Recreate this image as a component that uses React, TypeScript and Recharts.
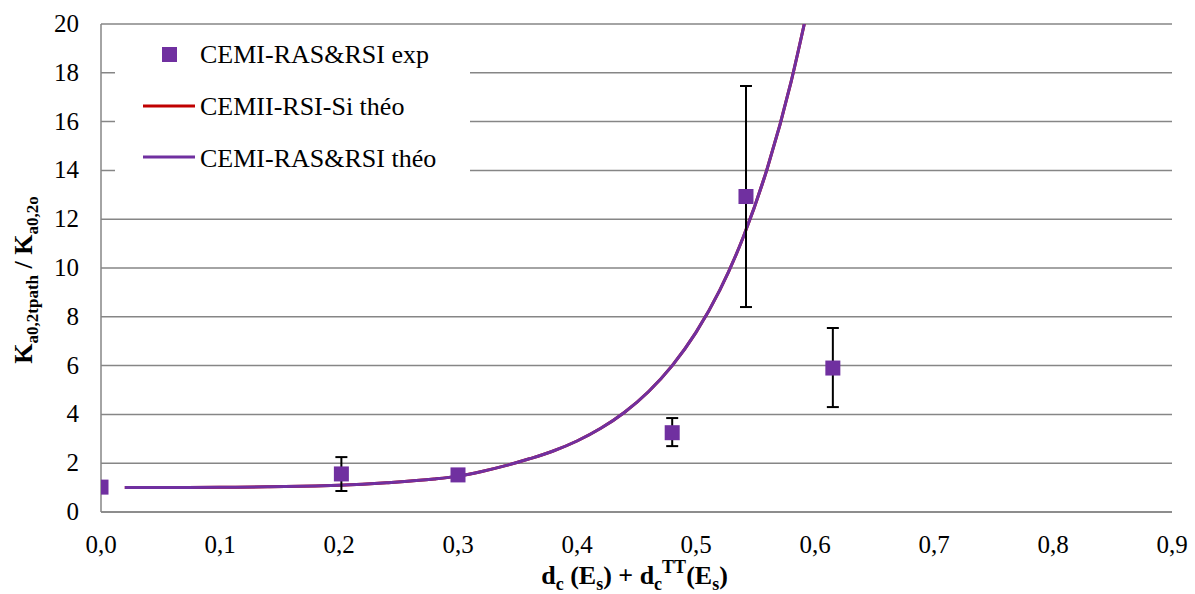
import React from "react";
import { ComposedChart, Line, Scatter, ErrorBar, XAxis, YAxis, CartesianGrid, Legend } from "recharts";

const PURPLE = "#7030A0";
const RED = "#C00000";
const GRID = "#868686";
const FONT = "Liberation Serif, Tinos, DejaVu Serif, Times New Roman, serif";

// axis ticks
const X_TICKS = [0, 0.1, 0.2, 0.3, 0.4, 0.5, 0.6, 0.7, 0.8, 0.9];
const Y_TICKS = [0, 2, 4, 6, 8, 10, 12, 14, 16, 18, 20];

// experimental points (CEMI-RAS&RSI exp), error = [minus, plus]
const expX = [0, 0.202, 0.3, 0.48, 0.542, 0.615];
const expY = [1.02, 1.56, 1.52, 3.25, 12.93, 5.9];
const expErr: (number[] | null)[] = [null, [0.7, 0.69], null, [0.55, 0.6], [4.53, 4.53], [1.6, 1.64]];

// theoretical curves
const theoX = [0.02, 0.06, 0.1, 0.14, 0.18, 0.2, 0.24, 0.28, 0.3, 0.32, 0.34, 0.36, 0.38, 0.4, 0.42, 0.44, 0.46, 0.48, 0.5, 0.52, 0.54, 0.56, 0.58, 0.591];
const cemiiY = [1.0, 1.0, 1.01, 1.03, 1.07, 1.1, 1.2, 1.35, 1.47, 1.66, 1.9, 2.18, 2.5, 2.91, 3.43, 4.09, 4.93, 6.0, 7.36, 9.09, 11.3, 14.1, 17.65, 20];
const cemiY = [1.0, 1.0, 1.01, 1.03, 1.07, 1.1, 1.2, 1.35, 1.47, 1.66, 1.9, 2.18, 2.5, 2.91, 3.43, 4.09, 4.93, 6.0, 7.36, 9.09, 11.3, 14.1, 17.65, 20];

const expData = expX.map((x, i) => ({ x, y: expY[i], err: expErr[i] }));
const cemiiData = theoX.map((x, i) => ({ x, y: cemiiY[i] }));
const cemiData = theoX.map((x, i) => ({ x, y: cemiY[i] }));

const fmtX = (v: number) => v.toFixed(1).replace(".", ",");

const SquareDot = (props: any) => {
  const { cx, cy } = props;
  if (cx == null || cy == null) return null;
  return <rect x={cx - 7.5} y={cy - 7.5} width={15} height={15} fill={PURPLE} />;
};

const XTick = (props: any) => {
  const { x, y, payload } = props;
  return (
    <g>
      <text x={x} y={y + 35} textAnchor="middle" style={{ fontFamily: FONT, fontSize: 25 }} fill="#000">
        {fmtX(payload.value)}
      </text>
    </g>
  );
};

const YTick = (props: any) => {
  const { x, y, payload } = props;
  return (
    <g>
      <text x={x - 16} y={y + 8} textAnchor="end" style={{ fontFamily: FONT, fontSize: 25 }} fill="#000">
        {String(payload.value)}
      </text>
    </g>
  );
};

const renderLegend = () => (
  <svg width={355} height={165} style={{ display: "block", background: "#fff" }}>
    <rect x={47} y={19} width={15} height={15} fill={PURPLE} />
    <text x={85} y={35} fontFamily={FONT} fontSize={26} fill="#000">
      CEMI-RAS&amp;RSI exp
    </text>
    <line x1={28} x2={80} y1={78} y2={78} stroke={RED} strokeWidth={3} />
    <text x={85} y={87} fontFamily={FONT} fontSize={26} fill="#000">
      CEMII-RSI-Si théo
    </text>
    <line x1={28} x2={80} y1={129} y2={129} stroke={PURPLE} strokeWidth={3} />
    <text x={85} y={139} fontFamily={FONT} fontSize={26} fill="#000">
      CEMI-RAS&amp;RSI théo
    </text>
  </svg>
);

const XTitle = (props: any) => {
  const { viewBox } = props;
  const cx = viewBox.x + viewBox.width / 2 - 2;
  const y = viewBox.y + 72;
  return (
    <text x={cx} y={y} textAnchor="middle" fontFamily={FONT} fontWeight="bold" fontSize={26} fill="#000">
      <tspan>d</tspan>
      <tspan dy={6} fontSize={18}>c</tspan>
      <tspan dy={-6}> (E</tspan>
      <tspan dy={6} fontSize={18}>s</tspan>
      <tspan dy={-6}>) + d</tspan>
      <tspan dy={6} fontSize={18}>c</tspan>
      <tspan dy={-17} fontSize={18}>TT</tspan>
      <tspan dy={11}>(E</tspan>
      <tspan dy={6} fontSize={18}>s</tspan>
      <tspan dy={-6}>)</tspan>
    </text>
  );
};

const YTitle = () => {
  const x = 32;
  const cy = 280;
  return (
    <text x={x} y={cy} transform={`rotate(-90, ${x}, ${cy})`} textAnchor="middle" fontFamily={FONT} fontWeight="bold" fontSize={26} fill="#000">
      <tspan>K</tspan>
      <tspan dy={6} fontSize={17}>a0,2tpath</tspan>
      <tspan dy={-6}> / K</tspan>
      <tspan dy={6} fontSize={17}>a0,2o</tspan>
    </text>
  );
};

export default function App() {
  return (
    <div style={{ position: "absolute", left: 0, top: 0, width: 1195, height: 594, background: "#fff" }}>
      <ComposedChart width={1195} height={594} margin={{ top: 24, right: 23, bottom: 42, left: 21 }}>
        <CartesianGrid vertical={false} stroke={GRID} strokeWidth={1.5} />
        <XAxis
          type="number"
          dataKey="x"
          domain={[0, 0.9]}
          ticks={X_TICKS}
          height={40}
          axisLine={{ stroke: GRID, strokeWidth: 1.5 }}
          tickLine={false}
          tickMargin={0}
          tick={XTick}
          label={{ content: XTitle }}
          allowDataOverflow
        />
        <YAxis
          type="number"
          dataKey="y"
          domain={[0, 20]}
          ticks={Y_TICKS}
          width={80}
          axisLine={{ stroke: GRID, strokeWidth: 1.5 }}
          tickLine={false}
          tickMargin={0}
          tick={YTick}
          label={{ content: YTitle }}
          allowDataOverflow
        />
        <Legend
          layout="vertical"
          align="center"
          verticalAlign="middle"
          content={renderLegend}
          wrapperStyle={{ left: 115, top: 28, width: 355, height: 165 }}
        />
        <Line data={cemiiData} dataKey="y" type="monotone" stroke={RED} strokeWidth={3} dot={false} isAnimationActive={false} />
        <Line data={cemiData} dataKey="y" type="monotone" stroke={PURPLE} strokeWidth={3} dot={false} isAnimationActive={false} />
        <Scatter data={expData} dataKey="y" shape={SquareDot} isAnimationActive={false}>
          <ErrorBar dataKey="err" direction="y" width={6} stroke="#000" strokeWidth={2} />
        </Scatter>
      </ComposedChart>
    </div>
  );
}
